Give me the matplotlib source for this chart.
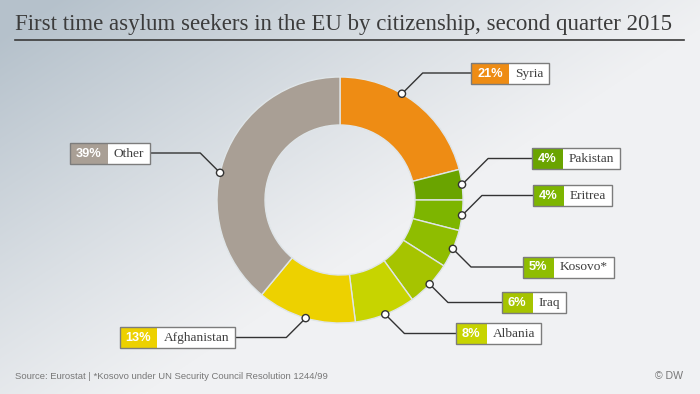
import numpy as np
import matplotlib
matplotlib.use("Agg")
import matplotlib.pyplot as plt
from matplotlib.patches import Rectangle, Circle
import logging
logging.getLogger("matplotlib.font_manager").setLevel(logging.ERROR)

# ---------------- data ----------------
countries = ["Syria", "Pakistan", "Eritrea", "Kosovo*", "Iraq", "Albania", "Afghanistan", "Other"]
shares = [21, 4, 4, 5, 6, 8, 13, 39]
colors = ["#EE8C14", "#6AA400", "#7DB500", "#8FBD00", "#A6C400", "#C7D400", "#EDD100", "#A99F95"]

title = "First time asylum seekers in the EU by citizenship, second quarter 2015"
source = "Source: Eurostat | *Kosovo under UN Security Council Resolution 1244/99"
credit = "\u00a9 DW"

# ---------------- layout (pixels, y measured from top) ----------------
W, H = 700, 394
cx, cy_px, R, RING = 340, 200, 123, 48
# label box anchor: x of box edge facing the chart, box centre y, side, anchor fraction in slice
label_layout = [
    (471, 73.0, "r", 0.40),
    (532, 158.5, "r", 0.5),
    (533, 195.5, "r", 0.5),
    (523, 267.0, "r", 0.5),
    (502, 302.5, "r", 0.5),
    (456, 333.5, "r", 0.5),
    (235, 337.5, "l", 0.5),
    (150, 153.0, "l", 0.45),
]
BOX_H = 21
PAD = 6

fig = plt.figure(figsize=(W / 100, H / 100), dpi=100)
ax = fig.add_axes([0, 0, 1, 1])

def Y(y):  # convert top-down pixel y to data y
    return H - y

# background gradient
xx, yy = np.meshgrid(np.arange(W) + 0.5, np.arange(H) + 0.5)
s = (420 - xx) * 0.55 + (260 - yy) * 0.84
t = np.clip((s - 40) / 380, 0, 1)
t = t ** 1.1
light = np.array([0xF0, 0xF1, 0xF3]) / 255
dark = np.array([0xB5, 0xC1, 0xCB]) / 255
img = light[None, None, :] * (1 - t[..., None]) + dark[None, None, :] * t[..., None]
ax.imshow(img, extent=(0, W, 0, H), origin="upper", aspect="auto", zorder=0, interpolation="bilinear")

# donut
wedges, _ = ax.pie(shares, colors=colors, startangle=90, counterclock=False,
                   center=(cx, Y(cy_px)), radius=R,
                   wedgeprops=dict(width=RING, edgecolor="#dfe5e8", linewidth=1.0))
for w in wedges:
    w.set_zorder(2)

ax.set_xlim(0, W)
ax.set_ylim(0, H)
ax.set_aspect("auto")
ax.axis("off")

renderer = fig.canvas.get_renderer()

serif = ["Liberation Serif", "DejaVu Serif"]
sans = ["Liberation Sans", "DejaVu Sans"]
narrow = ["Liberation Sans Narrow", "Liberation Sans", "DejaVu Sans"]

# labels
for name, val, col, w, (bx, bcy, side, frac) in zip(countries, shares, colors, wedges, label_layout):
    ang = np.deg2rad(w.theta2 - frac * (w.theta2 - w.theta1))
    dx = cx + R * np.cos(ang)
    dy = Y(cy_px) + R * np.sin(ang)
    by = Y(bcy)

    pt = ax.text(0, 0, f"{val}%", fontsize=9.2, fontweight="bold", color="white",
                 family=sans, ha="center", va="center", zorder=6)
    nt = ax.text(0, 0, name, fontsize=9.6, color="#3e3e3e", family=serif,
                 ha="center", va="center", zorder=6)
    pw = pt.get_window_extent(renderer).width + 2 * PAD
    nw = nt.get_window_extent(renderer).width + 2 * PAD
    total = pw + nw
    left = bx if side == "r" else bx - total

    ax.add_patch(Rectangle((left, by - BOX_H / 2), pw, BOX_H, facecolor=col, edgecolor="none", zorder=4))
    ax.add_patch(Rectangle((left + pw, by - BOX_H / 2), nw, BOX_H, facecolor="white", edgecolor="none", zorder=4))
    ax.add_patch(Rectangle((left, by - BOX_H / 2), total, BOX_H, facecolor="none",
                           edgecolor="#7c7c7c", linewidth=1.0, zorder=5))
    pt.set_position((left + pw / 2, by - 0.5))
    nt.set_position((left + pw + nw / 2, by - 0.5))

    d = abs(by - dy)
    ex = dx + d if side == "r" else dx - d
    ax.plot([dx, ex, bx], [dy, by, by], color="#333333", lw=1.0, zorder=3, solid_capstyle="butt")
    ax.add_patch(Circle((dx, dy), 3.6, facecolor="white", edgecolor="#333333", lw=1.0, zorder=7))

# title fitted to width
tt = ax.text(15, Y(30), title, fontsize=15, color="#3c3c3c", family=serif, ha="left", va="baseline", zorder=6)
tw = tt.get_window_extent(renderer).width
tt.set_fontsize(15 * 660 / tw)
ax.plot([15, 684], [Y(39.5), Y(39.5)], color="#3a3a3a", lw=1.2, zorder=6)

# footer
ft = ax.text(15, Y(379), source, fontsize=7, color="#777777", family=narrow, ha="left", va="baseline", zorder=6)
fw = ft.get_window_extent(renderer).width
ft.set_fontsize(min(8.2, max(6.8, 7 * 264 / fw)))
ax.text(683, Y(379), credit, fontsize=7.6, color="#777777", family=narrow, ha="right", va="baseline", zorder=6)

fig.savefig("out.png", dpi=100)
